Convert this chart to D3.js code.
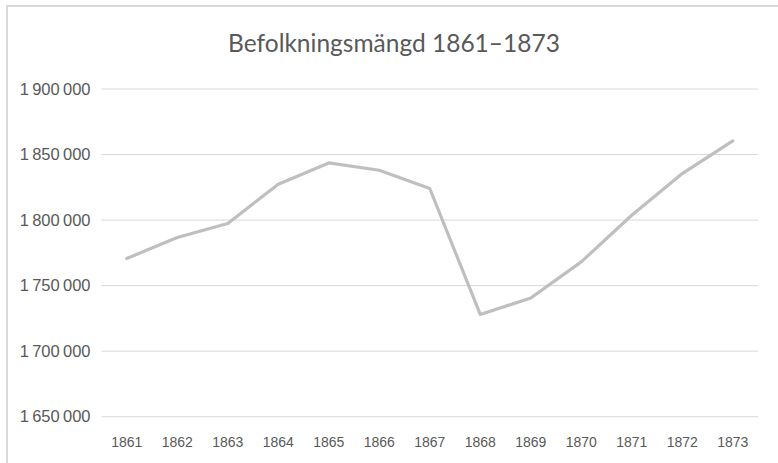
<!DOCTYPE html>
<html>
<head>
<meta charset="utf-8">
<script src="https://cdn.jsdelivr.net/npm/d3@7"></script>
<style>
  body { margin: 0; background: #fff; }
  svg { display: block; font-family: Lato, "Open Sans", sans-serif; }
  .axis .domain { display: none; }
  .axis text { fill: #595959; }
  .y-axis text { font-size: 16.5px; }
  .x-axis text { font-size: 14px; }
  .grid line { stroke: #d9d9d9; stroke-width: 1; }
</style>
</head>
<body>
<div id="chart"></div>
<script>
// Data
const years = ['1861', '1862', '1863', '1864', '1865', '1866', '1867',
               '1868', '1869', '1870', '1871', '1872', '1873'];
const population = [1770700, 1786700, 1797400, 1827400, 1843600, 1838000, 1824100,
                    1728000, 1740500, 1768100, 1803700, 1835500, 1860400];
const yTicks = [1650000, 1700000, 1750000, 1800000, 1850000, 1900000];
const chartTitle = 'Befolkningsmängd 1861–1873';

const width = 778, height = 463;
const margin = {top: 89, right: 20, bottom: 46, left: 101.5};
const innerW = 758 - margin.left;
const innerH = 416.7 - margin.top;

const svg = d3.select('#chart').append('svg')
    .attr('width', width)
    .attr('height', height);

// Outer chart border (runs past the right/bottom edge)
svg.append('rect')
    .attr('x', 7).attr('y', 6)
    .attr('width', 800).attr('height', 500)
    .attr('fill', '#fff')
    .attr('stroke', '#d9d9d9')
    .attr('stroke-width', 2);

svg.append('text')
    .attr('x', 394)
    .attr('y', 52)
    .attr('text-anchor', 'middle')
    .attr('fill', '#595959')
    .style('font-size', '24.5px')
    .text(chartTitle);

const chart = svg.append('g')
    .attr('transform', `translate(${margin.left},${margin.top})`);

const xScale = d3.scaleBand()
    .domain(years)
    .range([0, innerW]);

const yScale = d3.scaleLinear()
    .domain([1650000, 1900000])
    .range([innerH, 0]);

const fmt = d => d3.format(',')(d).replace(/,/g, '\u2009');

// Gridlines
chart.append('g')
    .attr('class', 'grid')
    .selectAll('line')
    .data(yTicks)
    .join('line')
    .attr('x1', 0)
    .attr('x2', innerW)
    .attr('y1', d => yScale(d))
    .attr('y2', d => yScale(d));

// Y axis
const yAxis = d3.axisLeft(yScale)
    .tickValues(yTicks)
    .tickSize(0)
    .tickPadding(11)
    .tickFormat(fmt);

chart.append('g')
    .attr('class', 'axis y-axis')
    .call(yAxis);

// X axis
const xAxis = d3.axisBottom(xScale)
    .tickSize(0)
    .tickPadding(20);

chart.append('g')
    .attr('class', 'axis x-axis')
    .attr('transform', `translate(0,${innerH})`)
    .call(xAxis);

// Line
const line = d3.line()
    .x((d, i) => xScale(years[i]) + xScale.bandwidth() / 2)
    .y(d => yScale(d));

chart.append('path')
    .datum(population)
    .attr('fill', 'none')
    .attr('stroke', '#bfbfbf')
    .attr('stroke-width', 3.2)
    .attr('stroke-linejoin', 'round')
    .attr('stroke-linecap', 'round')
    .attr('d', line);
</script>
</body>
</html>
